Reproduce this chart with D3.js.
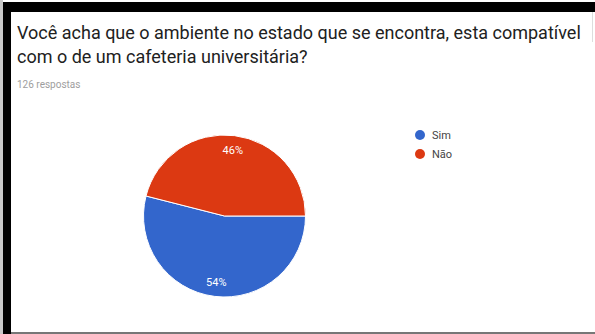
<!DOCTYPE html>
<html>
<head>
	<meta charset="utf-8"/>
	<style type="text/css">
		body {
			margin: 0;
			background: white;
		}
		svg text {
			font-family: Roboto, "Noto Sans", sans-serif;
		}
	</style>
</head>
<body>
	<svg id="chart" width="595" height="334"></svg>

	<script src="https://d3js.org/d3.v7.min.js"></script>
	<script>
		// dados
		let categorias = ["Sim", "Não"];
		let respostas = [68, 58];
		let cores = ["#3366cc", "#dc3912"];
		let titulo = [
			"Você acha que o ambiente no estado que se encontra, esta compatível",
			"com o de um cafeteria universitária?"
		];
		let subtitulo = "126 respostas";

		let width = 595;
		let height = 334;
		let svg = d3.select("#chart");

		// moldura (recorte de tela)
		svg.append("rect").attr("x", 0).attr("y", 0).attr("width", 3).attr("height", height).attr("fill", "#c8c8c8");
		svg.append("rect").attr("x", 3).attr("y", 2).attr("width", width - 3).attr("height", 10).attr("fill", "#000");
		svg.append("rect").attr("x", 3).attr("y", 2).attr("width", 8).attr("height", height - 2).attr("fill", "#000");
		svg.append("rect").attr("x", 11).attr("y", height - 2).attr("width", width - 11).attr("height", 2).attr("fill", "#777");
		svg.append("rect").attr("x", width - 3).attr("y", 12).attr("width", 1).attr("height", 30).attr("fill", "#ddd");

		// titulo
		svg.append("g")
		   .selectAll("text")
		   .data(titulo)
		   .enter()
		   .append("text")
		   .attr("x", 17)
		   .attr("y", function(d, i) { return 39 + i * 24; })
		   .attr("font-size", 18)
		   .attr("fill", "#212121")
		   .text(function(d) { return d; });

		svg.append("text")
		   .attr("x", 17)
		   .attr("y", 88)
		   .attr("font-size", 10)
		   .attr("fill", "#9e9e9e")
		   .text(subtitulo);

		// pizza
		let cx = 224.5, cy = 216, raio = 81;
		let total = d3.sum(respostas);
		let dados = categorias.map(function(c, i) { return {nome: c, valor: respostas[i], cor: cores[i]}; });

		let pie = d3.pie()
				.value(function(d) { return d.valor; })
				.sort(null)
				.startAngle(Math.PI / 2)
				.endAngle(Math.PI / 2 + 2 * Math.PI);
		let arc = d3.arc().innerRadius(0).outerRadius(raio);
		let arcLabel = d3.arc().innerRadius(raio * 0.82).outerRadius(raio * 0.82);

		let g = svg.append("g").attr("transform", `translate(${cx}, ${cy})`);

		g.selectAll("path")
		 .data(pie(dados))
		 .enter()
		 .append("path")
		 .attr("d", arc)
		 .attr("fill", function(d) { return d.data.cor; })
		 .attr("stroke", "white")
		 .attr("stroke-width", 1);

		g.selectAll("text")
		 .data(pie(dados))
		 .enter()
		 .append("text")
		 .attr("transform", function(d) { return `translate(${arcLabel.centroid(d)})`; })
		 .attr("text-anchor", "middle")
		 .attr("dy", "0.35em")
		 .attr("font-size", 11)
		 .attr("fill", "white")
		 .text(function(d) { return Math.round(d.data.valor / total * 100) + "%"; });

		// legenda
		let legenda = svg.append("g")
		   .selectAll("g")
		   .data(dados)
		   .enter()
		   .append("g")
		   .attr("transform", function(d, i) { return `translate(420, ${135 + i * 19})`; });

		legenda.append("circle")
		   .attr("r", 5)
		   .attr("fill", function(d) { return d.cor; });

		legenda.append("text")
		   .attr("x", 12)
		   .attr("dy", "0.35em")
		   .attr("font-size", 11)
		   .attr("fill", "#444")
		   .text(function(d) { return d.nome; });
	</script>
</body>
</html>
